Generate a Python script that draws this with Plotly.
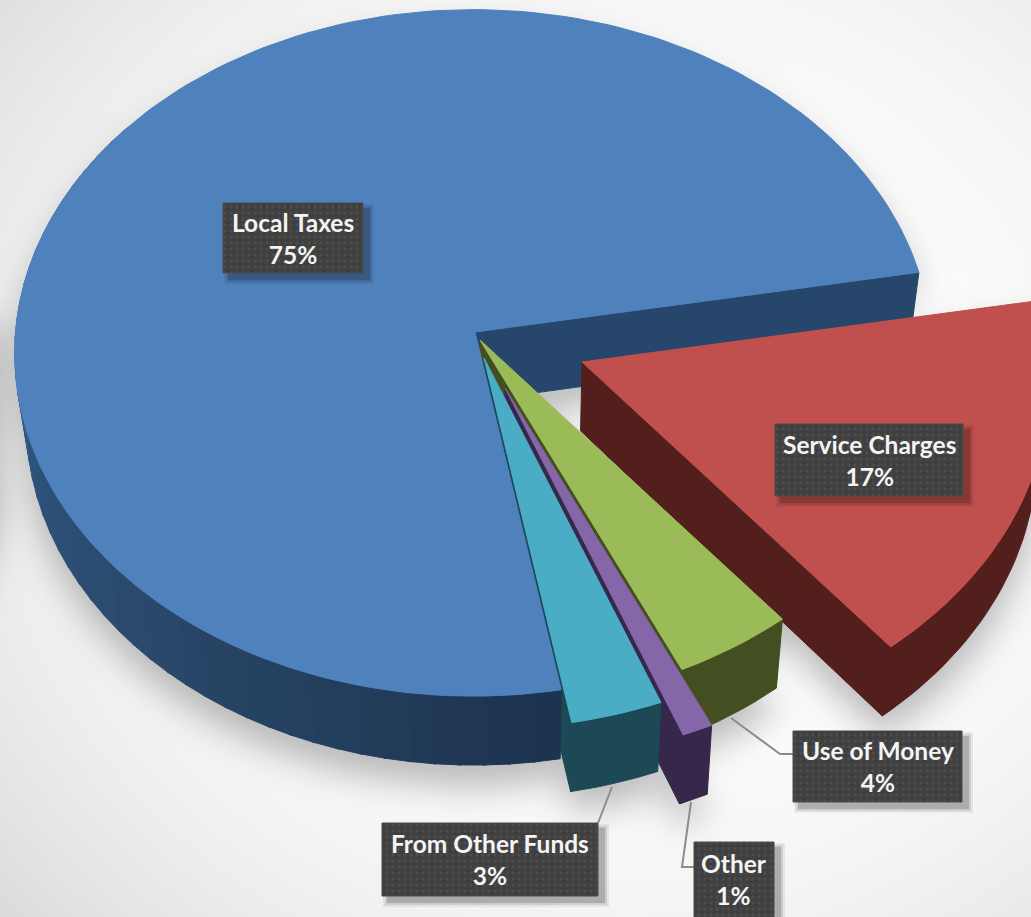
import numpy as np
import plotly.graph_objects as go

W, H = 1031, 917

# Revenue shares, in drawing order clockwise from the right-hand cut
categories = ["Service Charges", "Use of Money", "Other", "From Other Funds", "Local Taxes"]
shares = [17, 4, 1, 3, 75]
top_colors = ["#c0504d", "#9bbb59", "#8566a8", "#4bacc6", "#4f81bd"]
wall_colors = ["#521f1d", "#434f20", "#35284a", "#1c4955", "#27466b"]

# Placement of each wedge: apex on the page and radial scale of the explosion
apex_x = [582, 480, 505, 484, 475]
apex_y = [362, 340, 388, 358, 332]
radial = [1.02, 1.0, 1.022, 1.015, 0.997]

# Label boxes: left, top, right, bottom
label_boxes = {
    "Local Taxes": (223, 203, 363, 273),
    "Service Charges": (775, 424, 963, 496),
    "Use of Money": (793, 731, 962, 802),
    "From Other Funds": (382, 823, 598, 896),
    "Other": (694, 842, 774, 925),
}
leaders = [
    ([731, 780, 793], [718, 754, 754]),
    ([612, 598], [787, 823]),
    ([691, 682, 694], [802, 867, 867]),
]

# Projection of the tilted disc
START_ANGLE = -10.2
RX, RY = 459.0, 343.0
TILT_Y, TILT_X = 0.061, 0.004
DEPTH = 69.0
INSET = 0.977
INSET_X = 520.0


def project(i, deg):
    t = np.radians(np.asarray(deg, dtype=float))
    X, Y = radial[i] * np.cos(t), radial[i] * np.sin(t)
    d = 1 - TILT_Y * Y + TILT_X * X
    return apex_x[i] + RX * X / d, apex_y[i] + RY * Y / d


def drop(x, y):
    return INSET_X + (np.asarray(x) - INSET_X) * INSET, np.asarray(y) + DEPTH


def poly(x, y, color):
    return go.Scatter(x=list(x), y=list(y), mode="lines", fill="toself", fillcolor=color,
                      line=dict(color=color, width=1.0), hoverinfo="skip", showlegend=False)


edges = START_ANGLE + np.cumsum([0] + [s * 3.6 for s in shares])
spans = [(edges[i], edges[i + 1]) for i in range(len(shares))]


def arc(i):
    a, b = spans[i]
    return np.linspace(a, b, max(8, int((b - a) / 1.5)))


def wedge_outline(i):
    x, y = project(i, arc(i))
    return np.r_[apex_x[i], x, apex_x[i]], np.r_[apex_y[i], y, apex_y[i]]


def outer_wall(i):
    x, y = project(i, arc(i))
    bx, by = drop(x, y)
    return np.r_[x, bx[::-1], x[0]], np.r_[y, by[::-1], y[0]]


def cut_wall(i, angle):
    # Flat face running from the apex out to the rim at the given angle
    x, y = project(i, angle)
    bx, by = drop(x, y)
    ax, ay = drop(apex_x[i], apex_y[i])
    return [apex_x[i], x, bx, ax, apex_x[i]], [apex_y[i], y, by, ay, apex_y[i]]


def inside(px, py, vx, vy):
    hit = np.zeros(px.shape, dtype=bool)
    for j in range(len(vx) - 1):
        x0, y0, x1, y1 = vx[j], vy[j], vx[j + 1], vy[j + 1]
        if y0 == y1:
            continue
        crossing = ((y0 > py) != (y1 > py)) & (px < x0 + (py - y0) * (x1 - x0) / (y1 - y0))
        hit ^= crossing
    return hit


# Page backdrop: pale vignette with a soft cast shadow under the disc
STEP = 4
gx = np.arange(0, W + STEP, STEP, dtype=float)
gy = np.arange(0, H + STEP, STEP, dtype=float)
px, py = np.meshgrid(gx, gy)
vignette = ((px - 620) / 760) ** 2 + ((py - 430) / 680) ** 2
backdrop = 1.0 - 0.115 * np.clip(vignette, 0, 1.4) ** 1.4

mask = np.zeros(px.shape)
for i in range(len(shares)):
    ox, oy = wedge_outline(i)
    bx, by = drop(ox, oy)
    mask = np.maximum(mask, inside(px, py - 20, bx, by))
    mask = np.maximum(mask, inside(px, py - 20, ox, oy))
sigma = 17 / STEP
fy = np.fft.fftfreq(mask.shape[0])[:, None]
fx = np.fft.fftfreq(mask.shape[1])[None, :]
kernel = np.exp(-2 * (np.pi * sigma) ** 2 * (fx ** 2 + fy ** 2))
blurred = np.real(np.fft.ifft2(np.fft.fft2(mask) * kernel))
shade = backdrop * (1 - 0.26 * np.clip(blurred, 0, 1))

fig = go.Figure()
fig.add_trace(go.Heatmap(x=gx, y=gy, z=shade, zmin=0, zmax=1, zsmooth="best", showscale=False,
                         colorscale=[[0, "rgb(0,0,0)"], [1, "rgb(255,255,255)"]], hoverinfo="skip"))

LOCAL, SERVICE, MONEY, OTHER, FUNDS = 4, 0, 1, 2, 3

# Faces furthest from the viewer go first; later wedges hide what lies behind them
fig.add_trace(poly(*cut_wall(LOCAL, spans[LOCAL][1]), wall_colors[LOCAL]))

fig.add_trace(poly(*cut_wall(SERVICE, spans[SERVICE][1]), wall_colors[SERVICE]))
fig.add_trace(poly(*outer_wall(SERVICE), wall_colors[SERVICE]))
fig.add_trace(poly(*wedge_outline(SERVICE), top_colors[SERVICE]))

for i in (MONEY, OTHER, FUNDS):
    fig.add_trace(poly(*cut_wall(i, spans[i][1]), wall_colors[i]))
    fig.add_trace(poly(*outer_wall(i), wall_colors[i]))

# Local Taxes: shaded rim, then the top
rim_stops = [(80, (29, 52, 80)), (130, (42, 72, 106)), (165, (46, 84, 126)),
             (185, (62, 108, 160)), (215, (62, 108, 160))]
for t0 in np.arange(spans[LOCAL][0], 215, 3.0):
    t1 = t0 + 3.4
    tx, ty = project(LOCAL, [t0, t1])
    bx, by = drop(tx, ty)
    mix = [np.interp(t0, [s[0] for s in rim_stops], [s[1][c] for s in rim_stops]) for c in range(3)]
    fig.add_trace(poly([tx[0], tx[1], bx[1], bx[0], tx[0]], [ty[0], ty[1], by[1], by[0], ty[0]],
                       "rgb(%d,%d,%d)" % tuple(mix)))
fig.add_trace(poly(*wedge_outline(LOCAL), top_colors[LOCAL]))

for i in (FUNDS, OTHER, MONEY):
    fig.add_trace(poly(*wedge_outline(i), top_colors[i]))

# Leader lines
for lx, ly in leaders:
    fig.add_trace(go.Scatter(x=lx, y=ly, mode="lines", line=dict(color="#8c8c8c", width=2),
                             hoverinfo="skip", showlegend=False))

# Label boxes with a soft shadow and a dotted fill
for name, (l, t, r, b) in label_boxes.items():
    for grow, alpha in ((5, 0.06), (3, 0.10), (1, 0.16)):
        fig.add_trace(poly([l + 6 - grow, r + 6 + grow, r + 6 + grow, l + 6 - grow, l + 6 - grow],
                           [t + 6 - grow, t + 6 - grow, b + 6 + grow, b + 6 + grow, t + 6 - grow],
                           "rgba(0,0,0,%.2f)" % alpha))
        fig.data[-1].line.width = 0
    fig.add_trace(go.Scatter(x=[l, r, r, l, l], y=[t, t, b, b, t], mode="lines", fill="toself",
                             fillcolor="#3f3f3f",
                             fillpattern=dict(shape=".", fgcolor="#5a5a5a", bgcolor="#3f3f3f",
                                              size=6, solidity=0.25),
                             line=dict(color="#4a4a4a", width=1), hoverinfo="skip", showlegend=False))
    share = shares[categories.index(name)]
    fig.add_annotation(x=(l + r) / 2, y=(t + min(b, 917)) / 2, xref="x", yref="y",
                       text=f"<b>{name}</b><br><b>{share}%</b>", showarrow=False,
                       font=dict(family="Lato", size=24.5, color="#f4f4f4"), align="center")

fig.update_layout(width=W, height=H, autosize=False, margin=dict(l=0, r=0, t=0, b=0),
                  paper_bgcolor="white", plot_bgcolor="white", showlegend=False)
fig.update_xaxes(range=[0, W], visible=False, fixedrange=True)
fig.update_yaxes(range=[H, 0], visible=False, fixedrange=True)
fig.write_html("out.html", config={"displayModeBar": False})
